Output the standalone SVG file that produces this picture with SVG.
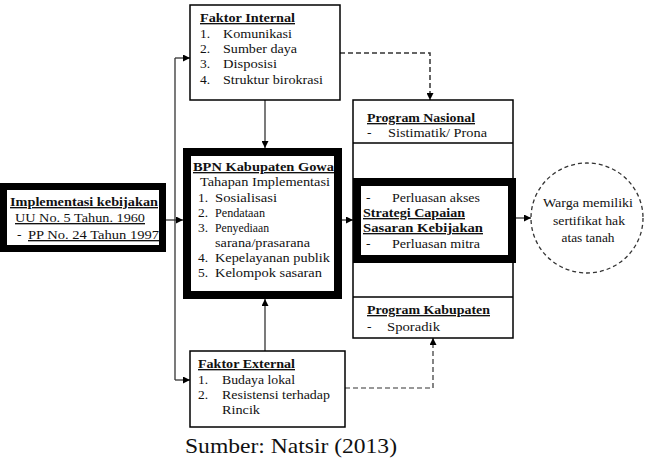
<svg xmlns="http://www.w3.org/2000/svg" width="650" height="464" viewBox="0 0 650 464">
<style>
text{font-family:"Liberation Serif","Times New Roman",Tinos,"DejaVu Serif",serif;font-size:13.5px;fill:#111}
.b{font-weight:bold}
.u{text-decoration:underline}
.box{fill:#fff;stroke:#000;stroke-width:1.5}
.thick{fill:#fff;stroke:#000;stroke-width:8}
.ln{fill:none;stroke:#333;stroke-width:1.3}
.dash{fill:none;stroke:#333;stroke-width:1.5;stroke-dasharray:5 3}
.cap{font-size:21.5px}
</style>
<defs>
<marker id="ah" viewBox="0 0 10 10" refX="10" refY="5" markerWidth="7" markerHeight="7" markerUnits="userSpaceOnUse" orient="auto">
<path d="M0,0 L10,5 L0,10 z" fill="#000"/>
</marker>
</defs>
<rect width="650" height="464" fill="#fff"/>

<g id="connectors">
<line class="ln" x1="175" y1="58" x2="175" y2="380"/>
<line class="ln" x1="175" y1="58" x2="190" y2="58" marker-end="url(#ah)"/>
<line class="ln" x1="166" y1="220" x2="183" y2="220" marker-end="url(#ah)"/>
<line class="ln" x1="175" y1="380" x2="190" y2="380" marker-end="url(#ah)"/>
<line class="ln" x1="265" y1="100" x2="265" y2="148" marker-end="url(#ah)"/>
<line class="ln" x1="265" y1="351" x2="265" y2="299" marker-end="url(#ah)"/>
<line class="ln" x1="342" y1="220" x2="353" y2="220" marker-end="url(#ah)"/>
<line class="ln" x1="432" y1="143" x2="432" y2="178" marker-end="url(#ah)"/>
<line class="ln" x1="432" y1="297" x2="432" y2="263" marker-end="url(#ah)"/>
<line class="ln" x1="516" y1="218" x2="531" y2="218" marker-end="url(#ah)"/>
<path class="dash" d="M340,53 H430 V100" marker-end="url(#ah)"/>
<path class="dash" d="M345,388 H433 V338" marker-end="url(#ah)" style="stroke-width:1.2"/>
</g>

<g id="implementasi">
<rect x="3.5" y="186.5" width="159" height="62" fill="#fff" stroke="#000" stroke-width="7"/>
<text class="b u" x="10" y="206" textLength="148" lengthAdjust="spacingAndGlyphs">Implementasi kebijakan</text>
<text class="u" x="15" y="222" textLength="130" lengthAdjust="spacingAndGlyphs">UU No. 5 Tahun. 1960</text>
<text x="17" y="239">-</text>
<text class="u" x="28" y="239" textLength="131" lengthAdjust="spacingAndGlyphs">PP No. 24 Tahun 1997</text>
</g>

<g id="faktor-internal">
<rect class="box" x="190" y="5" width="150" height="95"/>
<text class="b u" x="200" y="22" textLength="95" lengthAdjust="spacingAndGlyphs">Faktor Internal</text>
<text x="200" y="38">1.</text><text x="223" y="38" textLength="69" lengthAdjust="spacingAndGlyphs">Komunikasi</text>
<text x="200" y="53">2.</text><text x="223" y="53" textLength="74" lengthAdjust="spacingAndGlyphs">Sumber daya</text>
<text x="200" y="68">3.</text><text x="223" y="68" textLength="54" lengthAdjust="spacingAndGlyphs">Disposisi</text>
<text x="200" y="84">4.</text><text x="223" y="84" textLength="100" lengthAdjust="spacingAndGlyphs">Struktur birokrasi</text>
</g>

<g id="bpn">
<rect class="thick" x="187" y="152" width="151" height="143"/>
<text class="b u" x="193" y="171" textLength="141" lengthAdjust="spacingAndGlyphs">BPN Kabupaten Gowa</text>
<text x="200" y="186" textLength="130" lengthAdjust="spacingAndGlyphs">Tahapan Implementasi</text>
<text x="198" y="202">1.</text><text x="215" y="202" textLength="62" lengthAdjust="spacingAndGlyphs">Sosialisasi</text>
<text x="198" y="217">2.</text><text x="215" y="217" textLength="50" lengthAdjust="spacingAndGlyphs">Pendataan</text>
<text x="198" y="232">3.</text><text x="215" y="232" textLength="54" lengthAdjust="spacingAndGlyphs">Penyediaan</text>
<text x="215" y="247" textLength="95" lengthAdjust="spacingAndGlyphs">sarana/prasarana</text>
<text x="198" y="262">4.</text><text x="215" y="262" textLength="115" lengthAdjust="spacingAndGlyphs">Kepelayanan publik</text>
<text x="198" y="277">5.</text><text x="215" y="277" textLength="107" lengthAdjust="spacingAndGlyphs">Kelompok sasaran</text>
</g>

<g id="program-container">
<rect class="box" x="353" y="100" width="160" height="238"/>
</g>

<g id="program-nasional">
<line x1="353" y1="143" x2="513" y2="143" stroke="#000" stroke-width="1.5"/>
<text class="b u" x="367" y="122" textLength="108" lengthAdjust="spacingAndGlyphs">Program Nasional</text>
<text x="367" y="137">-</text>
<text x="388" y="137" textLength="99" lengthAdjust="spacingAndGlyphs">Sistimatik/ Prona</text>
</g>

<g id="strategi">
<rect class="thick" x="357" y="182" width="155" height="77"/>
<text x="366" y="202">-</text>
<text x="392" y="202" textLength="88" lengthAdjust="spacingAndGlyphs">Perluasan akses</text>
<text class="b u" x="363" y="217" textLength="102" lengthAdjust="spacingAndGlyphs">Strategi Capaian</text>
<text class="b u" x="363" y="232" textLength="120" lengthAdjust="spacingAndGlyphs">Sasaran Kebijakan</text>
<text x="366" y="248">-</text>
<text x="392" y="248" textLength="88" lengthAdjust="spacingAndGlyphs">Perluasan mitra</text>
</g>

<g id="program-kabupaten">
<line x1="353" y1="297" x2="513" y2="297" stroke="#000" stroke-width="1.5"/>
<text class="b u" x="367" y="314" textLength="123" lengthAdjust="spacingAndGlyphs">Program Kabupaten</text>
<text x="367" y="331">-</text>
<text x="387" y="331" textLength="53" lengthAdjust="spacingAndGlyphs">Sporadik</text>
</g>

<g id="faktor-external">
<rect class="box" x="190" y="351" width="155" height="76"/>
<text class="b u" x="198" y="368" textLength="97" lengthAdjust="spacingAndGlyphs">Faktor External</text>
<text x="198" y="384">1.</text><text x="222" y="384" textLength="73" lengthAdjust="spacingAndGlyphs">Budaya lokal</text>
<text x="198" y="399">2.</text><text x="222" y="399" textLength="108" lengthAdjust="spacingAndGlyphs">Resistensi terhadap</text>
<text x="222" y="414" textLength="38" lengthAdjust="spacingAndGlyphs">Rincik</text>
</g>

<g id="warga">
<ellipse cx="587" cy="218" rx="56" ry="55" fill="#fff" stroke="#333" stroke-width="1.3" stroke-dasharray="4 3"/>
<text x="588" y="207" text-anchor="middle" textLength="90" lengthAdjust="spacingAndGlyphs">Warga memiliki</text>
<text x="589" y="225" text-anchor="middle" textLength="72" lengthAdjust="spacingAndGlyphs">sertifikat hak</text>
<text x="588" y="242" text-anchor="middle" textLength="53" lengthAdjust="spacingAndGlyphs">atas tanah</text>
</g>

<g id="caption">
<text class="cap" x="185" y="453" textLength="212" lengthAdjust="spacingAndGlyphs">Sumber: Natsir (2013)</text>
</g>
</svg>
